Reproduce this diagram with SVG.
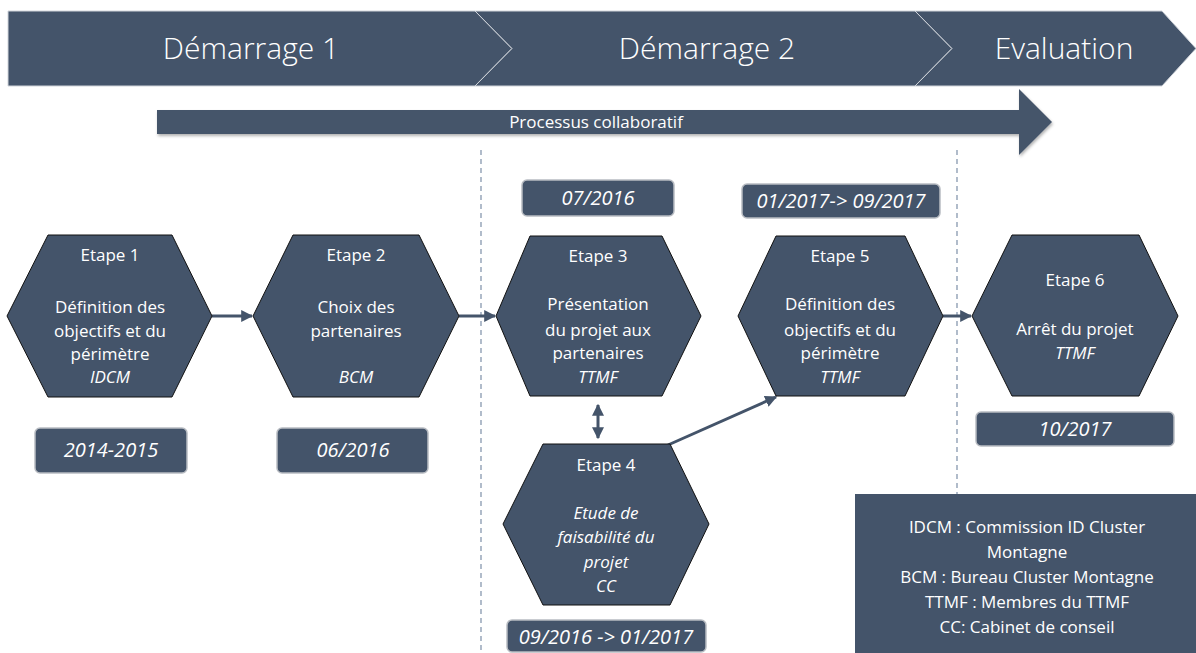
<svg xmlns="http://www.w3.org/2000/svg" width="1196" height="653" viewBox="0 0 1196 653">
<defs>
<style>
.band{fill:#44546a;stroke:#d0d4da;stroke-width:1}
.hex{fill:#44546a;stroke:#111;stroke-width:1}
.date{fill:#44546a;stroke:#b8bcc2;stroke-width:1.5}
.t{font-family:"Open Sans","Liberation Sans",sans-serif;fill:#fff;text-anchor:middle}
.title{font-size:30px;font-weight:300}
.b{font-size:17px}
.d{font-size:20px;font-style:italic}
.i{font-style:italic}
.con{stroke:#44546a;stroke-width:3;fill:none}
.dash{stroke:#7d8fa8;stroke-width:1.2;stroke-dasharray:5 4;fill:none}
</style>
<marker id="ah" viewBox="0 0 10 10" refX="9" refY="5" markerWidth="4" markerHeight="4" orient="auto-start-reverse" markerUnits="strokeWidth">
<path d="M0,0 L10,5 L0,10 z" fill="#44546a"/>
</marker>
<filter id="sh" x="-5%" y="-20%" width="110%" height="160%">
<feDropShadow dx="1" dy="2" stdDeviation="1.5" flood-color="#000" flood-opacity="0.3"/>
</filter>
</defs>

<g id="phases">
<polygon class="band" points="8,11 475,11 512,48.5 475,86 8,86"/>
<polygon class="band" points="475,11 915,11 952,48.5 915,86 475,86 512,48.5"/>
<polygon class="band" points="915,11 1162,11 1196,48.5 1162,86 915,86 952,48.5"/>
<text class="t title" x="251" y="59">Démarrage 1</text>
<text class="t title" x="707" y="59">Démarrage 2</text>
<text class="t title" x="1064" y="59">Evaluation</text>
</g>

<g id="processus">
<polygon fill="#44546a" filter="url(#sh)" points="157,110 1019,110 1019,89 1052,122 1019,155 1019,134 157,134"/>
<text class="t b" x="596" y="128">Processus collaboratif</text>
</g>

<g id="separators">
<line class="dash" x1="481" y1="150" x2="481" y2="653"/>
<line class="dash" x1="957" y1="150" x2="957" y2="494"/>
</g>

<g id="connectors">
<line class="con" x1="212" y1="316" x2="252" y2="316" marker-end="url(#ah)"/>
<line class="con" x1="459" y1="316" x2="495" y2="316" marker-end="url(#ah)"/>
<line class="con" x1="598" y1="405" x2="598" y2="438" marker-start="url(#ah)" marker-end="url(#ah)"/>
<line class="con" x1="668" y1="445" x2="776" y2="397" marker-end="url(#ah)"/>
<line class="con" x1="943" y1="316" x2="971" y2="316" marker-end="url(#ah)"/>
</g>

<g id="etape1">
<polygon class="hex" points="7,316 48,235 172,235 212,316 172,397 48,397"/>
<text class="t b" x="110" y="261">Etape 1</text>
<text class="t b" x="110" y="313">Définition des</text>
<text class="t b" x="110" y="337">objectifs et du</text>
<text class="t b" x="110" y="360">périmètre</text>
<text class="t b i" x="110" y="383">IDCM</text>
</g>
<g id="date1">
<rect class="date" x="35" y="428" width="152" height="45" rx="5"/>
<text class="t d" x="111" y="457">2014-2015</text>
</g>

<g id="etape2">
<polygon class="hex" points="253,316 293,235 419,235 459,316 419,397 293,397"/>
<text class="t b" x="356" y="261">Etape 2</text>
<text class="t b" x="356" y="313">Choix des</text>
<text class="t b" x="356" y="337">partenaires</text>
<text class="t b i" x="356" y="383">BCM</text>
</g>
<g id="date2">
<rect class="date" x="277" y="428" width="151" height="45" rx="5"/>
<text class="t d" x="353" y="457">06/2016</text>
</g>

<g id="date3">
<rect class="date" x="522" y="180" width="152" height="36" rx="5"/>
<text class="t d" x="598" y="205">07/2016</text>
</g>
<g id="etape3">
<polygon class="hex" points="496,316 530,236 662,236 701,316 662,396 530,396"/>
<text class="t b" x="598" y="262">Etape 3</text>
<text class="t b" x="598" y="310">Présentation</text>
<text class="t b" x="598" y="336">du projet aux</text>
<text class="t b" x="598" y="359">partenaires</text>
<text class="t b i" x="598" y="383">TTMF</text>
</g>

<g id="etape4">
<polygon class="hex" points="503,524 543,444 670,444 709,524 670,605 543,605"/>
<text class="t b" x="606" y="471">Etape 4</text>
<text class="t b i" x="606" y="519">Etude de</text>
<text class="t b i" x="606" y="543">faisabilité du</text>
<text class="t b i" x="606" y="568">projet</text>
<text class="t b i" x="606" y="592">CC</text>
</g>
<g id="date4">
<rect class="date" x="507" y="620" width="199" height="32" rx="5"/>
<text class="t d" x="606" y="644">09/2016 -&gt; 01/2017</text>
</g>

<g id="date5">
<rect class="date" x="742" y="184" width="198" height="34" rx="5"/>
<text class="t d" x="841" y="208">01/2017-&gt; 09/2017</text>
</g>
<g id="etape5">
<polygon class="hex" points="738,316 776,236 905,236 943,316 905,396 776,396"/>
<text class="t b" x="840" y="262">Etape 5</text>
<text class="t b" x="840" y="310">Définition des</text>
<text class="t b" x="840" y="336">objectifs et du</text>
<text class="t b" x="840" y="359">périmètre</text>
<text class="t b i" x="840" y="383">TTMF</text>
</g>

<g id="etape6">
<polygon class="hex" points="972,316 1012,235 1139,235 1178,316 1139,396 1012,396"/>
<text class="t b" x="1075" y="286">Etape 6</text>
<text class="t b" x="1075" y="335">Arrêt du projet</text>
<text class="t b i" x="1075" y="359">TTMF</text>
</g>
<g id="date6">
<rect class="date" x="976" y="412" width="198" height="34" rx="5"/>
<text class="t d" x="1075" y="436">10/2017</text>
</g>

<g id="legend">
<rect x="855" y="494" width="341" height="159" fill="#44546a"/>
<text class="t b" x="1027" y="533">IDCM : Commission ID Cluster</text>
<text class="t b" x="1027" y="558">Montagne</text>
<text class="t b" x="1027" y="583">BCM : Bureau Cluster Montagne</text>
<text class="t b" x="1027" y="608">TTMF : Membres du TTMF</text>
<text class="t b" x="1027" y="633">CC: Cabinet de conseil</text>
</g>
</svg>
